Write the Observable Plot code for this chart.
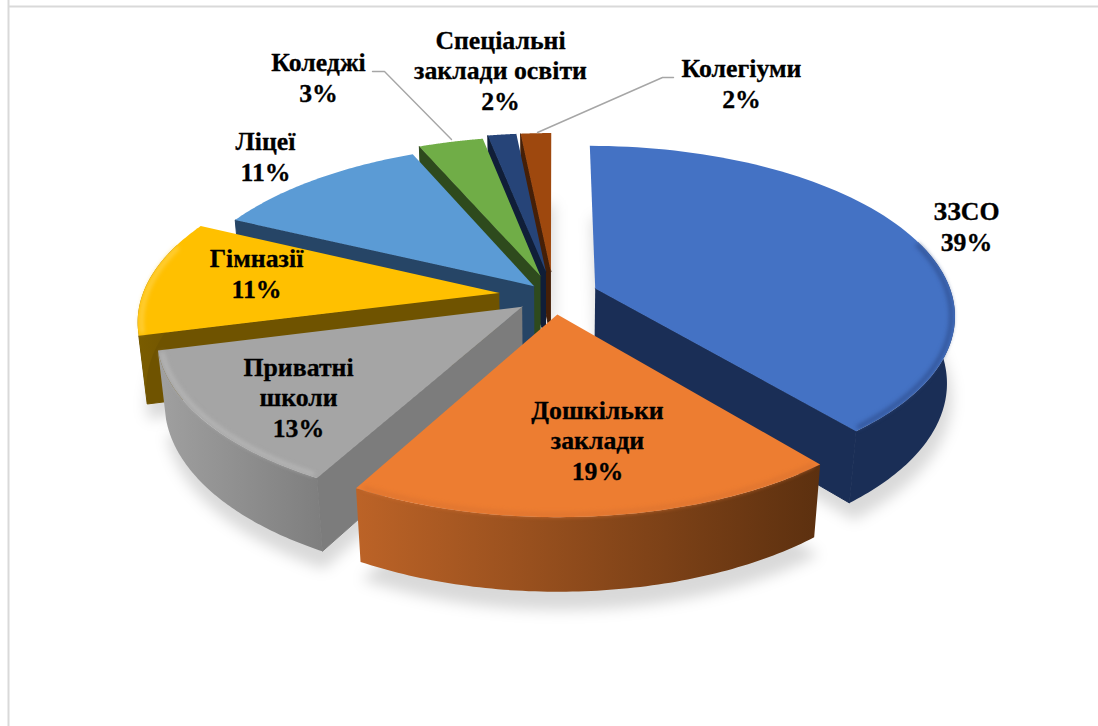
<!DOCTYPE html>
<html lang="uk">
<head>
<meta charset="utf-8">
<script src="https://cdn.jsdelivr.net/npm/d3@7"></script>
<script src="https://cdn.jsdelivr.net/npm/@observablehq/plot@0.6"></script>
<style>
html,body{margin:0;padding:0;background:#fff}
svg{display:block}
.shadow{filter:blur(7px)}
.bevel{filter:blur(2.2px)}
</style>
</head>
<body>
<div id="chart"></div>
<script>
// data
const categories = ["ЗЗСО","Дошкільки\nзаклади","Приватні\nшколи","Гімназії","Ліцеї","Коледжі","Спеціальні\nзаклади освіти","Колегіуми"];
const values = [39,19,13,11.1,11.4,3.4,1.5,1.6];
const explosion = [.125,.113,.11,.153,.079,.125,.147,.147];

// styles
const topColors  = ["#4472C4","#ED7D31","#A5A5A5","#FFC000","#5B9BD5","#70AD47","#264478","#9E480E"];
const wallColors = ["#1A2E56","#6B3612","#7C7C7C","#6F5300","#264566","#2E4A1D","#101E38","#451F07"];
const rimFrom    = ["#1A2E56","#BC6327","#A0A0A0","#7A5C00","#264566","#2E4A1D","#101E38","#451F07"];
const rimTo      = ["#1A2E56","#5C300F","#7E7E7E","#6F5300","#264566","#2E4A1D","#101E38","#451F07"];
const bevelColors= ["#2F4F8F","#DC7330","#BABABA","#FFD34D","#5B9BD5","#70AD47","#264478","#9E480E"];
const drawOrder  = [7,6,5,4,3,2,0,1];

// layout (pixels)
const W = 1098, H = 726;
const cx = 553, cy = 295, A = 357, B = 166, persp = 0.15, thick = 0.41, thickDepth = 0.02;
const labelCenters = [[966,225],[597,439],[298,396],[256,272],[265,155],[318,76],[500,69],[741,82]];
const leaders = [
  {name:"Коледжі", pts:[[372,71],[384,71],[451,139]]},
  {name:"Колегіуми", pts:[[673,77],[662,77],[537,132]]}
];
const border = {left:8, top:6};
const rimLimit = [1.27, 5.02]; // part of the circle whose curved wall faces the viewer (radians)

const fromPx = ([px,py]) => ({x:(px-cx)/A, y:(cy-py)/B});
const pie = d3.pie().sort(null)(values);

// perspective projection of a point on the exploded disc
function project(theta, r, e, mid, drop = 0) {
  const U = r*Math.sin(theta) + e*Math.sin(mid);
  const V = r*Math.cos(theta) + e*Math.cos(mid);
  const d = 1 + persp*V + thickDepth*(drop/thick);
  return {x: U/d, y: (V - drop)/d};
}
function arcPts(i, drop, r = 1, a0 = pie[i].startAngle, a1 = pie[i].endAngle) {
  const mid = (pie[i].startAngle + pie[i].endAngle)/2;
  return d3.range(81).map(k => project(a0 + (a1-a0)*k/80, r, explosion[i], mid, drop));
}
const apex = (i, drop) => project(0, 0, explosion[i], (pie[i].startAngle+pie[i].endAngle)/2, drop);
const poly = (pts, fill, extra = {}) => Plot.line(pts, {x:"x", y:"y", fill, stroke:"none", curve:"linear", ...extra});

const marks = [];
// gradients for the curved rims
marks.push(() => {
  const defs = d3.create("svg:defs");
  categories.forEach((c,i) => {
    const g = defs.append("linearGradient").attr("id","rim"+i);
    g.append("stop").attr("offset","0%").attr("stop-color",rimFrom[i]);
    g.append("stop").attr("offset","100%").attr("stop-color",rimTo[i]);
  });
  return defs.node();
});
// frame lines
marks.push(Plot.ruleX([fromPx([border.left,0]).x], {stroke:"#d9d9d9", strokeWidth:2}));
marks.push(Plot.ruleY([fromPx([0,border.top]).y], {x1:fromPx([border.left,0]).x, x2:fromPx([W,0]).x, stroke:"#d9d9d9", strokeWidth:2}));
// soft drop shadows
for (const i of drawOrder) {
  const pts = [apex(i,thick+.09), ...arcPts(i,thick+.09,1.01)];
  marks.push(poly(pts.map(p => ({x:p.x+.008,y:p.y})), "#000", {fillOpacity:.15, className:"shadow"}));
}
// faces, back to front
for (const i of drawOrder) {
  const s = pie[i], a = arcPts(i,0), b = arcPts(i,thick);
  const A0 = apex(i,0), B0 = apex(i,thick);
  if (Math.sin(s.startAngle) < -1e-6) marks.push(poly([A0,a[0],b[0],B0], wallColors[i], {stroke:wallColors[i], strokeWidth:1, strokeLinejoin:"round"}));
  if (Math.sin(s.endAngle) > 1e-6) marks.push(poly([A0,a[80],b[80],B0], wallColors[i], {stroke:wallColors[i], strokeWidth:1, strokeLinejoin:"round"}));
  const r0 = Math.max(s.startAngle, rimLimit[0]), r1 = Math.min(s.endAngle, rimLimit[1]);
  if (r0 < r1) {
    const ra = arcPts(i,0,1,r0,r1), rb = arcPts(i,thick,1,r0,r1);
    marks.push(poly([...ra, ...rb.slice().reverse()], `url(#rim${i})`));
  }
  marks.push(poly([A0, ...a], topColors[i]));
  // rounded top edge
  if (r0 < r1) {
    marks.push(Plot.line(arcPts(i,0,.99,r0+.02,r1-.02), {x:"x", y:"y", stroke:bevelColors[i], strokeWidth:4, strokeOpacity:.85, className:"bevel"}));
  }
}
// leader lines
for (const l of leaders) {
  marks.push(Plot.line(l.pts.map(fromPx), {x:"x", y:"y", stroke:"#A6A6A6", strokeWidth:1.4, curve:"linear"}));
}
// data labels
const labels = categories.map((c,i) => ({...fromPx(labelCenters[i]), text:`${c}\n${Math.round(values[i])}%`}));
marks.push(Plot.text(labels, {x:"x", y:"y", text:"text", fontFamily:"'Liberation Serif','Times New Roman',serif", fontSize:25.8, fontWeight:"bold", fill:"#000", stroke:"#000", strokeWidth:.3, lineHeight:1.19, textAnchor:"middle", lineAnchor:"middle"}));

const chart = Plot.plot({
  width:W, height:H, margin:0,
  x:{type:"linear", domain:[-1,1], range:[cx-A,cx+A], axis:null},
  y:{type:"linear", domain:[-1,1], range:[cy+B,cy-B], axis:null},
  style:{background:"#fff", overflow:"visible"},
  marks
});
document.getElementById("chart").append(chart);
</script>
</body>
</html>
